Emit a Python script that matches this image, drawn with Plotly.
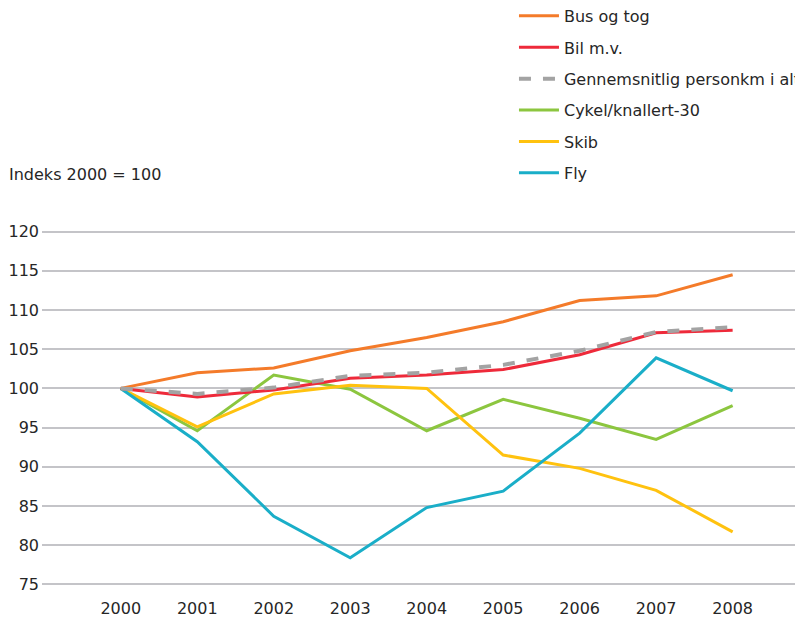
import plotly.graph_objects as go

years = ["2000", "2001", "2002", "2003", "2004", "2005", "2006", "2007", "2008"]

bus_og_tog = [100, 102.0, 102.6, 104.8, 106.5, 108.5, 111.2, 111.8, 114.5]
bil_mv = [100, 98.9, 99.8, 101.3, 101.7, 102.4, 104.3, 107.1, 107.4]
gennemsnit = [100, 99.3, 100.1, 101.6, 102.0, 103.0, 104.8, 107.2, 107.8]
cykel = [100, 94.6, 101.7, 99.9, 94.6, 98.6, 96.2, 93.5, 97.8]
skib = [100, 95.1, 99.3, 100.4, 100.0, 91.5, 89.8, 87.0, 81.7]
fly = [100, 93.2, 83.7, 78.4, 84.8, 86.9, 94.3, 103.9, 99.7]

y_ticks = [75, 80, 85, 90, 95, 100, 105, 110, 115, 120]

series = [
    ("Bus og tog", bus_og_tog, "#F47B2A", "solid", 3),
    ("Bil m.v.", bil_mv, "#EE2A3A", "solid", 3),
    ("Gennemsnitlig personkm i alt", gennemsnit, "#A3A3A3", "dash", 4),
    ("Cykel/knallert-30", cykel, "#8CC63F", "solid", 3),
    ("Skib", skib, "#FFC20F", "solid", 3),
    ("Fly", fly, "#1AAEC8", "solid", 3),
]

fig = go.Figure()
x_idx = list(range(len(years)))
draw_order = [0, 3, 4, 5, 1, 2]
for i in draw_order:
    name, vals, color, dash, w = series[i]
    fig.add_trace(go.Scatter(
        x=x_idx, y=vals, mode="lines", name=name,
        line=dict(color=color, width=w, dash=dash),
        legendrank=i + 1, legendgroup=name,
    ))

font_family = "DejaVu Sans, sans-serif"
txt = "#262626"

# page body adds an 8px offset, so the figure is 8px smaller than the window
fig.update_layout(
    width=795, height=611,
    paper_bgcolor="white", plot_bgcolor="white",
    margin=dict(l=34, r=0, t=222, b=33, autoexpand=False),
    font=dict(family=font_family, size=16, color=txt),
    showlegend=True,
    legend=dict(
        x=0.6202, xanchor="left", y=1.649, yanchor="top",
        yref="paper",
        font=dict(size=16, color=txt),
        tracegroupgap=7.6, itemwidth=40,
        bgcolor="rgba(0,0,0,0)",
    ),
    xaxis=dict(
        tickmode="array", tickvals=x_idx, ticktext=years,
        range=[-1.03, 8.92], showgrid=False, zeroline=False,
        showline=False, ticks="", ticklabelstandoff=11,
        tickfont=dict(size=16, color=txt),
    ),
    yaxis=dict(
        tickmode="array", tickvals=y_ticks,
        range=[74.8, 120.2], showgrid=True, gridcolor="#C4C4C8", gridwidth=1.5,
        zeroline=False, showline=False, ticks="", ticklabelstandoff=2,
        tickfont=dict(size=16, color=txt),
    ),
    annotations=[dict(
        text="Indeks 2000 = 100", xref="paper", yref="paper",
        x=-0.046, y=1.1545, xanchor="left", yanchor="middle",
        showarrow=False, font=dict(size=16, color=txt),
    )],
)

fig.write_html("out.html")
